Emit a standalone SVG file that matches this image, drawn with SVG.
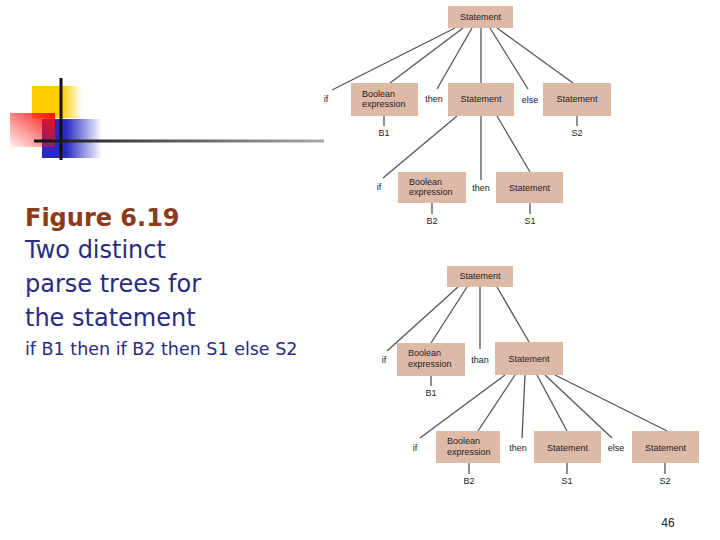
<svg xmlns="http://www.w3.org/2000/svg" width="720" height="540" viewBox="0 0 720 540">
<defs>
<linearGradient id="gy" x1="0" x2="1" y1="0" y2="0"><stop offset="0.6" stop-color="#ffcc00"/><stop offset="1" stop-color="#ffcc00" stop-opacity="0"/></linearGradient>
<linearGradient id="gb" x1="0" x2="1" y1="0" y2="0"><stop offset="0.4" stop-color="#2a2ac0"/><stop offset="1" stop-color="#2a2ac0" stop-opacity="0"/></linearGradient>
<linearGradient id="gr" x1="1" x2="0" y1="0" y2="1"><stop offset="0" stop-color="#ff1010"/><stop offset="1" stop-color="#ff1010" stop-opacity="0.05"/></linearGradient>
<linearGradient id="gl" x1="0" x2="1" y1="0" y2="0"><stop offset="0" stop-color="#111"/><stop offset="1" stop-color="#aaa"/></linearGradient>
<style>
.box{fill:#dfb9a7}
.t{font-family:"Liberation Sans",Arial,sans-serif;font-size:9px;fill:#222;text-anchor:middle}
.c line{stroke:#555;stroke-width:1.3}
.cap{font-family:"DejaVu Sans",Verdana,sans-serif;fill:#2b2b7e}
</style>
</defs>
<g id="decor">
<rect x="32" y="86" width="50" height="32" fill="url(#gy)"/>
<rect x="42" y="119" width="60" height="39" fill="url(#gb)"/>
<rect x="10" y="113" width="45" height="34" fill="url(#gr)"/>
<rect x="59.5" y="78" width="3" height="82" fill="#111"/>
<rect x="34" y="139.5" width="290" height="3" fill="url(#gl)"/>
</g>
<g id="caption">
<text x="25" y="226" class="cap" font-size="24" font-weight="bold" style="fill:#8b3a1a">Figure 6.19</text>
<text x="25" y="258" class="cap" font-size="24">Two distinct</text>
<text x="25" y="292" class="cap" font-size="24">parse trees for</text>
<text x="25" y="326" class="cap" font-size="24">the statement</text>
<text x="25" y="355" class="cap" font-size="17.5">if B1 then if B2 then S1 else S2</text>
</g>
<g id="connectors" class="c">
<line x1="455" y1="28" x2="332" y2="90"/>
<line x1="463" y1="28" x2="390" y2="83"/>
<line x1="472" y1="28" x2="437" y2="89"/>
<line x1="481" y1="28" x2="481" y2="83"/>
<line x1="490" y1="28" x2="528" y2="89"/>
<line x1="497" y1="28" x2="573" y2="83"/>
<line x1="384" y1="116" x2="384" y2="126"/>
<line x1="577" y1="116" x2="577" y2="126"/>
<line x1="457" y1="116" x2="383" y2="178"/>
<line x1="481" y1="116" x2="481" y2="180"/>
<line x1="497" y1="116" x2="530" y2="172"/>
<line x1="432" y1="203" x2="432" y2="214"/>
<line x1="530" y1="203" x2="530" y2="214"/>
<line x1="458" y1="287" x2="387" y2="351"/>
<line x1="467" y1="287" x2="431" y2="343"/>
<line x1="480" y1="287" x2="480" y2="349"/>
<line x1="497" y1="287" x2="529" y2="342"/>
<line x1="431" y1="376" x2="431" y2="386"/>
<line x1="505" y1="375" x2="420" y2="438"/>
<line x1="515" y1="375" x2="478" y2="431"/>
<line x1="525" y1="375" x2="522" y2="438"/>
<line x1="537" y1="375" x2="567" y2="431"/>
<line x1="545" y1="375" x2="612" y2="438"/>
<line x1="555" y1="375" x2="667" y2="431"/>
<line x1="469" y1="463" x2="469" y2="474"/>
<line x1="567" y1="463" x2="567" y2="474"/>
<line x1="665" y1="463" x2="665" y2="474"/>
</g>
<g id="t1-root"><rect class="box" x="448" y="6" width="65" height="22"/><text class="t" x="480.5" y="20">Statement</text></g>
<g id="t1-if"><text class="t" x="326" y="102">if</text></g>
<g id="t1-bool"><rect class="box" x="351" y="83" width="67" height="33"/><text class="t" x="362" y="97" style="text-anchor:start">Boolean</text><text class="t" x="362" y="107" style="text-anchor:start">expression</text></g>
<g id="t1-then"><text class="t" x="434" y="102">then</text></g>
<g id="t1-stmt"><rect class="box" x="448" y="83" width="66" height="33"/><text class="t" x="481" y="102">Statement</text></g>
<g id="t1-else"><text class="t" x="530" y="103">else</text></g>
<g id="t1-stmt2"><rect class="box" x="543" y="83" width="68" height="33"/><text class="t" x="577" y="102">Statement</text></g>
<g id="t1-b1"><text class="t" x="384" y="136">B1</text></g>
<g id="t1-s2"><text class="t" x="577" y="136">S2</text></g>
<g id="t1-if2"><text class="t" x="379" y="190">if</text></g>
<g id="t1-bool2"><rect class="box" x="398" y="172" width="68" height="31"/><text class="t" x="409" y="185" style="text-anchor:start">Boolean</text><text class="t" x="409" y="195" style="text-anchor:start">expression</text></g>
<g id="t1-then2"><text class="t" x="481" y="191">then</text></g>
<g id="t1-stmt3"><rect class="box" x="496" y="172" width="67" height="31"/><text class="t" x="529.5" y="191">Statement</text></g>
<g id="t1-b2"><text class="t" x="432" y="224">B2</text></g>
<g id="t1-s1"><text class="t" x="530" y="224">S1</text></g>
<g id="t2-root"><rect class="box" x="447" y="266" width="66" height="21"/><text class="t" x="480" y="279">Statement</text></g>
<g id="t2-if"><text class="t" x="384" y="363">if</text></g>
<g id="t2-bool"><rect class="box" x="397" y="343" width="68" height="33"/><text class="t" x="408" y="356" style="text-anchor:start">Boolean</text><text class="t" x="408" y="367" style="text-anchor:start">expression</text></g>
<g id="t2-than"><text class="t" x="480" y="363">than</text></g>
<g id="t2-stmt"><rect class="box" x="495" y="342" width="68" height="33"/><text class="t" x="529" y="362">Statement</text></g>
<g id="t2-b1"><text class="t" x="431" y="396">B1</text></g>
<g id="t2-if2"><text class="t" x="415" y="451">if</text></g>
<g id="t2-bool2"><rect class="box" x="436" y="431" width="64" height="32"/><text class="t" x="447" y="444" style="text-anchor:start">Boolean</text><text class="t" x="447" y="455" style="text-anchor:start">expression</text></g>
<g id="t2-then"><text class="t" x="518" y="451">then</text></g>
<g id="t2-stmt2"><rect class="box" x="534" y="431" width="67" height="32"/><text class="t" x="567.5" y="451">Statement</text></g>
<g id="t2-else"><text class="t" x="616" y="451">else</text></g>
<g id="t2-stmt3"><rect class="box" x="632" y="431" width="67" height="32"/><text class="t" x="665.5" y="451">Statement</text></g>
<g id="t2-b2"><text class="t" x="469" y="484">B2</text></g>
<g id="t2-s1"><text class="t" x="567" y="484">S1</text></g>
<g id="t2-s2"><text class="t" x="665" y="484">S2</text></g>
<g id="pagenum"><text x="668" y="527" style="font-family:'Liberation Sans',Arial,sans-serif;font-size:12px;fill:#222;text-anchor:middle">46</text></g>
</svg>
